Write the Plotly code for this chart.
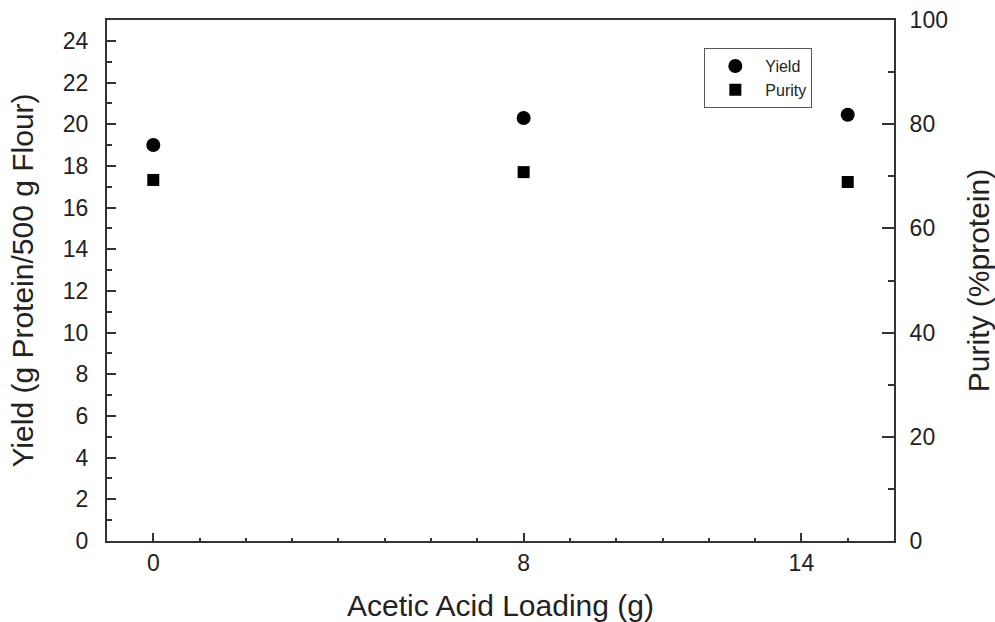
import plotly.graph_objects as go

loading = [0, 8, 15]
yield_vals = [19.0, 20.3, 20.45]
purity_vals = [69.3, 70.8, 68.9]
x_tickvals = [0, 8, 14]
x_ticktext = ["0", "8", "14"]

FONT = "Liberation Sans, Arial, sans-serif"
TC = "#222"

fig = go.Figure()
fig.add_trace(go.Scatter(x=loading, y=yield_vals, mode="markers", name="Yield",
                         marker=dict(symbol="circle", size=14, color="black"), yaxis="y"))
fig.add_trace(go.Scatter(x=loading, y=purity_vals, mode="markers", name="Purity",
                         marker=dict(symbol="square", size=12, color="black"), yaxis="y2"))

fig.update_layout(
    width=995, height=622,
    margin=dict(l=107, r=101, t=20, b=81, autoexpand=False),
    paper_bgcolor="white", plot_bgcolor="white",
    font=dict(family=FONT, color=TC),
    showlegend=True,
    legend=dict(x=0.759, y=0.946, xanchor="left", yanchor="top",
                bordercolor="#555", borderwidth=1, bgcolor="white",
                font=dict(size=16, family=FONT, color=TC),
                itemwidth=50, tracegroupgap=0),
    xaxis=dict(range=[-1, 16], tickmode="array", tickvals=x_tickvals, ticktext=x_ticktext,
               ticks="inside", ticklen=8, tickwidth=1.5, tickcolor="#333",
               minor=dict(ticks="inside", ticklen=3, dtick=1, tick0=0, tickcolor="#333", tickwidth=1.5),
               showline=True, linecolor="#333", linewidth=2, mirror=True,
               showgrid=False, zeroline=False, automargin=False,
               tickfont=dict(size=23, family=FONT, color=TC),
               title=dict(text="Acetic Acid Loading (g)", font=dict(size=30, family=FONT, color=TC), standoff=20)),
    yaxis=dict(range=[0, 25], tickmode="linear", tick0=0, dtick=2,
               ticks="inside", ticklen=9, tickwidth=1.5, tickcolor="#333",
               minor=dict(ticks="inside", ticklen=5, dtick=1, tick0=0, tickcolor="#333", tickwidth=1.5),
               showline=True, linecolor="#333", linewidth=2,
               showgrid=False, zeroline=False, automargin=False,
               ticklabelstandoff=12,
               tickfont=dict(size=23, family=FONT, color=TC),
               title=dict(text="Yield (g Protein/500 g Flour)", font=dict(size=30, family=FONT, color=TC), standoff=20)),
    yaxis2=dict(range=[0, 100], overlaying="y", side="right", tickmode="linear", tick0=0, dtick=20,
                ticks="inside", ticklen=12, tickwidth=1.5, tickcolor="#333",
                minor=dict(ticks="inside", ticklen=6, dtick=10, tick0=0, tickcolor="#333", tickwidth=1.5),
                showline=True, linecolor="#333", linewidth=2,
                showgrid=False, zeroline=False, automargin=False,
                ticklabelstandoff=9,
                tickfont=dict(size=23, family=FONT, color=TC),
                title=dict(text="Purity (%protein)", font=dict(size=30, family=FONT, color=TC), standoff=22)),
)

fig.write_html("out.html")
